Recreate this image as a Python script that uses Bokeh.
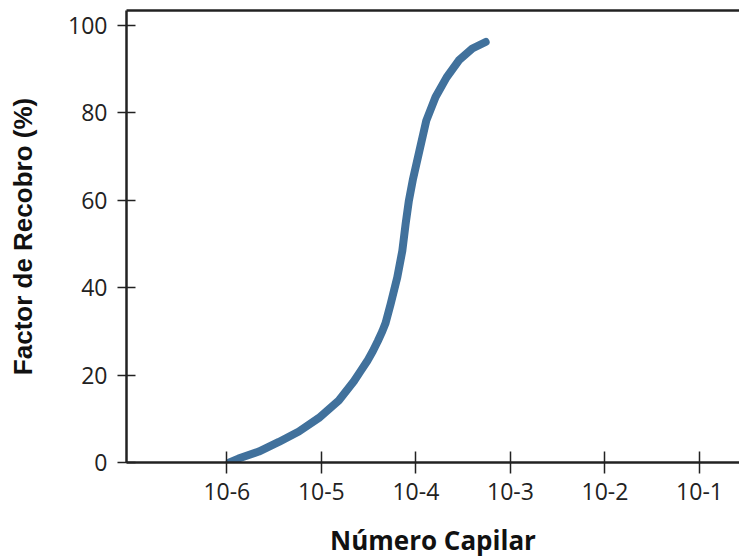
from bokeh.plotting import figure
from bokeh.models import (Range1d, FixedTicker, CustomJSTickFormatter, LinearAxis)
from bokeh.embed import file_html
from bokeh.resources import INLINE

# Data (capillary number vs recovery factor %)
capillary_number = [1.07e-6, 1.33e-6, 2.18e-6, 3.55e-6, 5.78e-6, 9.42e-6,
                    1.53e-5, 2.21e-5, 2.60e-5, 3.06e-5, 3.51e-5, 3.96e-5,
                    4.41e-5, 4.78e-5, 5.40e-5, 6.35e-5, 7.18e-5, 7.78e-5,
                    8.43e-5, 9.33e-5, 1.089e-4, 1.288e-4, 1.614e-4, 2.113e-4,
                    2.851e-4, 3.954e-4, 5.47e-4]
recovery_factor = [0.0, 0.9, 2.5, 4.7, 7.1, 10.2, 14.2, 18.6, 20.9, 23.2,
                   25.5, 27.8, 30.0, 31.9, 36.2, 42.3, 48.4, 54.5, 59.9,
                   64.9, 71.3, 78.2, 83.6, 88.1, 92.0, 94.7, 96.2]

x_ticks = [1e-6, 1e-5, 1e-4, 1e-3, 1e-2, 1e-1]
x_labels = ["10-6", "10-5", "10-4", "10-3", "10-2", "10-1"]
y_ticks = [0, 20, 40, 60, 80, 100]

FONT = "Open Sans"
TXT = "#222222"

p = figure(width=739, height=560, x_axis_type="log",
           x_range=Range1d(10 ** -7.061, 10 ** -0.577),
           y_range=Range1d(0, 103.4),
           output_backend="svg", toolbar_location=None,
           min_border_left=126, min_border_right=0, min_border_top=10,
           min_border_bottom=0)
p.outline_line_color = None
p.grid.grid_line_color = None
p.background_fill_color = "white"
p.border_fill_color = "white"

p.line(capillary_number, recovery_factor, line_width=8, line_color="#41719c",
       line_cap="round", line_join="round")

xa = p.xaxis[0]
xa.ticker = FixedTicker(ticks=x_ticks)
xa.formatter = CustomJSTickFormatter(args=dict(labels=x_labels),
                                     code="return labels[index];")
xa.minor_tick_line_color = None
xa.major_tick_in = 11
xa.major_tick_out = 11
xa.major_tick_line_width = 1.5
xa.major_tick_line_color = TXT
xa.axis_line_width = 2.5
xa.axis_line_color = TXT
xa.major_label_text_font = FONT
xa.major_label_text_font_size = "23px"
xa.major_label_text_color = TXT
xa.major_label_standoff = 9
xa.axis_label = "Número Capilar"
xa.axis_label_text_font = FONT
xa.axis_label_text_font_style = "bold"
xa.axis_label_text_font_size = "26px"
xa.axis_label_text_color = "#111111"
xa.axis_label_standoff = 19

ya = p.yaxis[0]
ya.ticker = FixedTicker(ticks=y_ticks)
ya.minor_tick_line_color = None
ya.major_tick_in = 9
ya.major_tick_out = 9
ya.major_tick_line_width = 1.5
ya.major_tick_line_color = TXT
ya.axis_line_width = 2.5
ya.axis_line_color = TXT
ya.major_label_text_font = FONT
ya.major_label_text_font_size = "23px"
ya.major_label_text_color = TXT
ya.major_label_standoff = 10
ya.axis_label = "Factor de Recobro (%)"
ya.axis_label_text_font = "Liberation Sans"
ya.axis_label_text_font_style = "bold"
ya.axis_label_text_font_size = "26px"
ya.axis_label_text_color = "#111111"
ya.axis_label_standoff = 27

top = LinearAxis(ticker=FixedTicker(ticks=[]), major_tick_in=0, major_tick_out=0,
                 minor_tick_in=0, minor_tick_out=0, axis_line_width=2.5,
                 axis_line_color=TXT, major_label_text_font_size="0px")
p.add_layout(top, "above")

open("out.html", "w").write(file_html(p, INLINE))
